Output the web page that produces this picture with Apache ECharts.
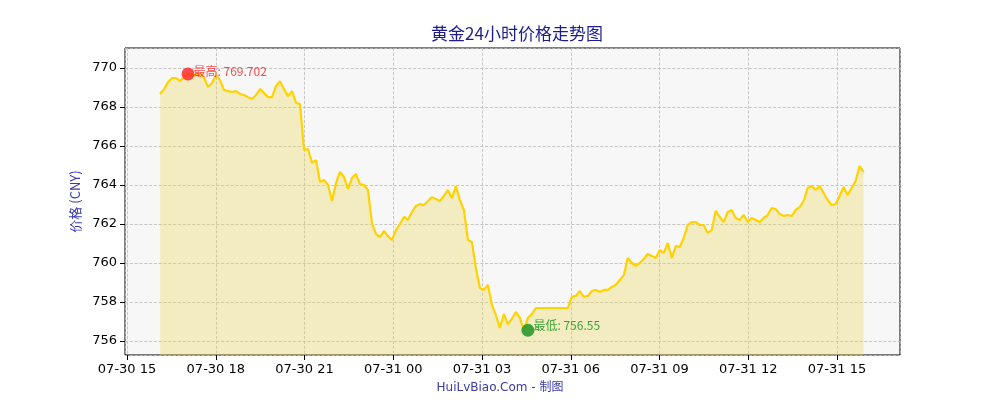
<!DOCTYPE html>
<html><head><meta charset="utf-8">
<script src="https://cdn.jsdelivr.net/npm/echarts@6/dist/echarts.min.js"></script>
<style>html,body{margin:0;padding:0;background:#fff}#c{width:1000px;height:400px}</style>
</head><body><div id="c"></div>
<script>
// hours since 07-30 00:00
const startHour = 16.117, endHour = 39.9;
const prices = [
768.67,768.92,769.28,769.49,769.49,769.33,769.54,769.70,769.64,769.65,769.69,769.49,769.03,769.23,769.64,769.38,768.87,768.82,768.77,768.82,768.67,768.62,768.51,768.41,768.62,768.92,768.72,768.51,768.51,769.08,769.33,768.92,768.56,768.82,768.21,768.15,765.79,
765.85,765.13,765.28,764.15,764.26,764.00,763.18,764.10,764.67,764.41,763.79,764.36,764.56,764.05,764.00,763.74,762.05,761.49,761.33,761.64,761.38,761.18,761.69,762.00,762.36,762.21,762.62,762.92,763.03,762.97,763.18,763.38,763.28,763.18,763.44,763.74,763.33,763.95,763.23,762.72,761.18,761.08,759.74,758.72,758.62,758.87,757.85,757.33,756.67,757.38,756.87,757.13,757.49,757.18,756.55,757.18,757.38,757.69,757.69,
757.69,757.69,757.69,757.69,757.69,757.69,757.69,
758.26,758.31,758.56,758.26,758.31,758.56,758.62,758.51,758.62,758.62,758.77,758.87,759.13,759.38,760.26,760.00,759.85,760.00,760.21,760.46,760.36,760.26,760.67,760.51,761.03,760.26,760.87,760.82,761.28,761.95,762.10,762.10,761.95,761.95,761.54,761.69,762.67,762.36,762.10,762.62,762.72,762.31,762.21,762.46,762.10,762.31,762.21,762.10,762.31,762.46,762.82,762.77,762.51,762.41,762.46,762.41,762.72,762.87,763.18,763.85,763.95,763.74,763.95,763.59,763.23,762.97,763.03,763.44,763.90,763.49,763.85,764.21,764.97,764.67
];
const highPoint = [17.06, 769.702];
const lowPoint = [28.55, 756.55];
const step = (endHour - startHour) / (prices.length - 1);
const data = prices.map((v, i) => [startHour + i * step, v]);
const pad = n => (n < 10 ? '0' : '') + n;
const chart = echarts.init(document.getElementById('c'));
chart.setOption({
  animation: false,
  title: { text: '黄金24小时价格走势图', left: 512, top: 20, textAlign: 'center',
    textStyle: { color: '#1c1c8c', fontSize: 17, fontWeight: 'normal', fontFamily: 'Noto Sans CJK SC' } },
  graphic: [{ type: 'text', left: 'center', top: 382, style: { text: 'HuiLvBiao.Com - 制图', x: 512, fill: '#3a3aa8', font: '12px "DejaVu Sans", "Noto Sans CJK SC"' } }],
  grid: { left: 125, right: 100, top: 48, bottom: 45, show: true, backgroundColor: '#f7f7f7', borderColor: '#000', borderWidth: 1 },
  xAxis: { type: 'value', min: 14.93, max: 41.13, splitNumber: 9,
    axisLine: { show: false }, axisTick: { show: true, lineStyle: { color: '#000' } },
    axisLabel: { color: '#000', fontSize: 13, fontFamily: 'DejaVu Sans', showMinLabel: false, showMaxLabel: false,
      formatter: v => { if (Math.abs(v % 3) > 0.01) return ''; const d = v >= 24 ? '07-31 ' : '07-30 '; return d + pad(Math.round(v % 24)); } },
    splitLine: { show: true, lineStyle: { color: '#bbb', type: 'dashed', width: 0.8 } } },
  yAxis: { type: 'value', min: 755.28, max: 771.03, splitNumber: 8, name: '价格 (CNY)', nameLocation: 'middle', nameGap: 42,
    nameTextStyle: { color: '#3a3aa8', fontSize: 13, fontFamily: 'Noto Sans CJK SC' },
    axisLine: { show: false }, axisTick: { show: true, lineStyle: { color: '#000' } },
    axisLabel: { color: '#000', fontSize: 13, fontFamily: 'DejaVu Sans', showMinLabel: false, showMaxLabel: false,
      formatter: v => (Math.abs(v - Math.round(v)) < 0.01 ? String(Math.round(v)) : '') },
    splitLine: { show: true, lineStyle: { color: '#bbb', type: 'dashed', width: 0.8 } } },
  series: [{ type: 'line', data: data, showSymbol: false, smooth: false,
    lineStyle: { color: '#ffd200', width: 2.2 }, areaStyle: { color: 'rgba(240,215,80,0.45)', origin: 'start' },
    markPoint: { animation: false, data: [
      { coord: highPoint, symbol: 'circle', symbolSize: 13, itemStyle: { color: '#ff2a2a', opacity: 0.85 },
        label: { show: true, position: 'right', offset: [-6, -2], formatter: '最高: 769.702', color: '#ff2a2a', fontSize: 12, fontFamily: 'Noto Sans CJK SC' } },
      { coord: lowPoint, symbol: 'circle', symbolSize: 13, itemStyle: { color: '#2a9a2a', opacity: 0.9 },
        label: { show: true, position: 'right', offset: [-6, -5], formatter: '最低: 756.55', color: '#2a9a2a', fontSize: 12, fontFamily: 'Noto Sans CJK SC' } }
    ] } }]
});
</script></body></html>
